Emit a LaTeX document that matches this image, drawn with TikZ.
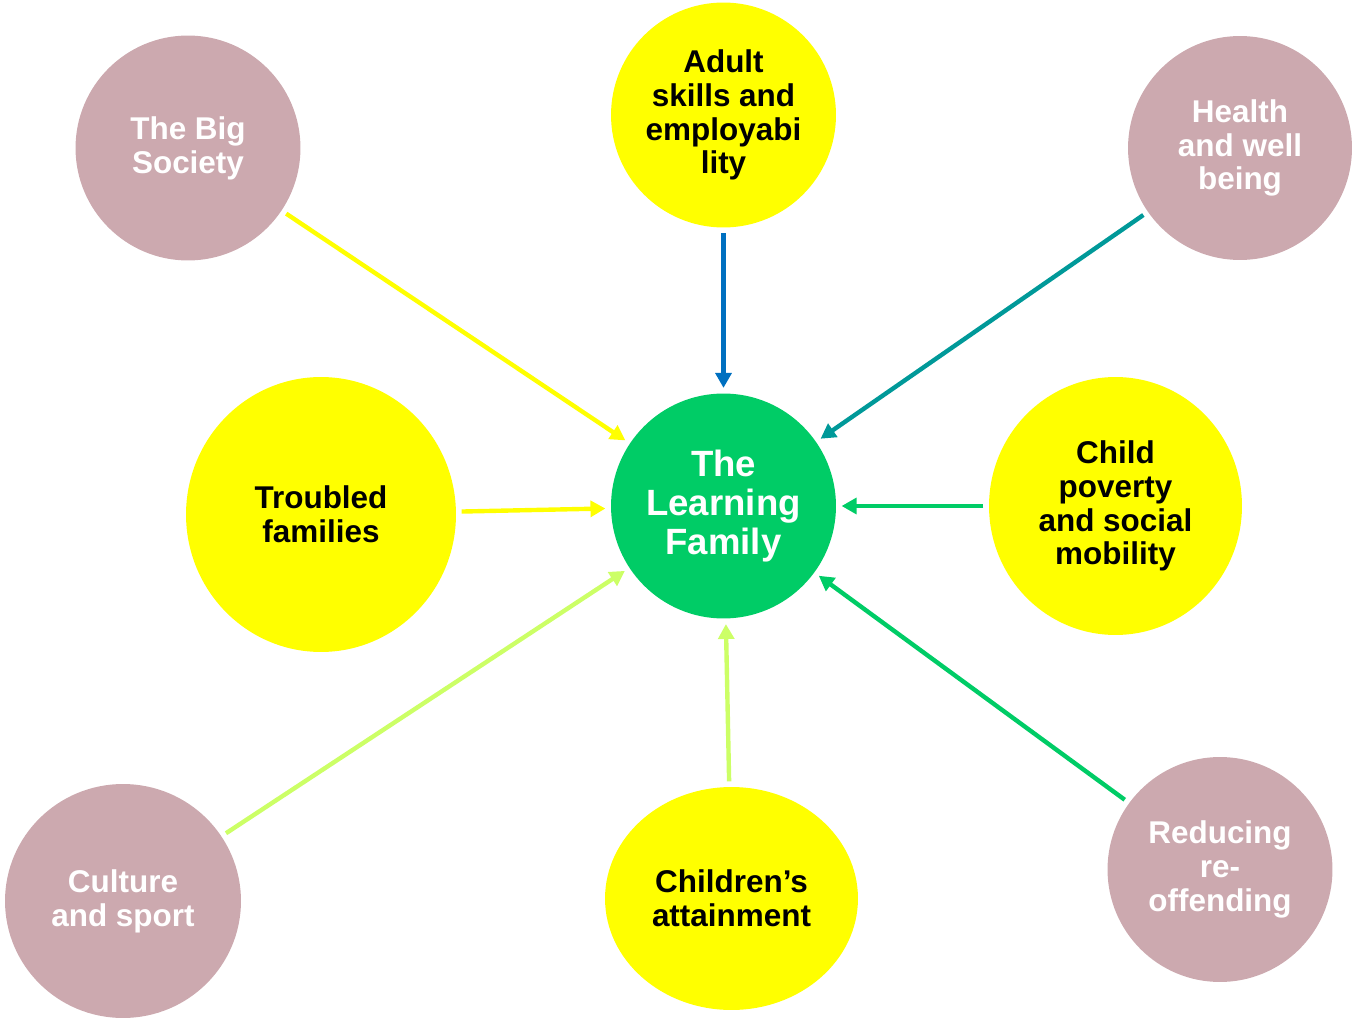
\documentclass[tikz,border=0pt]{standalone}
\usepackage{fontspec}
\setmainfont{Liberation Sans}
\usetikzlibrary{arrows.meta,shapes.geometric}

\definecolor{mauve}{HTML}{CCA9AF}
\definecolor{sun}{HTML}{FFFF00}
\definecolor{hubgreen}{HTML}{00CC66}
\definecolor{lime}{HTML}{CCFF66}
\definecolor{skillblue}{HTML}{0070C0}
\definecolor{teal}{HTML}{009999}

\tikzset{
  issue/.style={ellipse, inner sep=0pt, align=center,
    font=\bfseries\fontsize{17.9}{19.3}\selectfont},
  outer/.style={issue, fill=mauve, text=white},
  inner/.style={issue, fill=sun, text=black},
  feed/.style={draw=#1, line width=2.5pt,
    -{Triangle[length=8.5pt,width=9pt]}, shorten <=3pt, shorten >=3pt},
}

\begin{document}
\begin{tikzpicture}[x=0.02cm, y=-0.02cm]
  \useasboundingbox (0,0) rectangle (1355,1020);

  % the hub
  \node[issue, fill=hubgreen, text=white, minimum size=4.5cm,
    font=\bfseries\fontsize{20.8}{22}\selectfont] (family) at (723.5,506)
    {The\\Learning\\Family};

  % policy areas round it
  \node[outer, minimum size=4.5cm] (bigsoc) at (188,148) {The Big\\Society};
  \node[inner, minimum size=4.5cm] (adult) at (723.5,115) {Adult\\skills and\\employabi\\lity};
  \node[outer, minimum size=4.48cm] (health) at (1240,148) {Health\\and well\\being};
  \node[inner, minimum width=5.4cm, minimum height=5.5cm] (troubled) at (321,514.5) {Troubled\\families};
  \node[inner, minimum width=5.06cm, minimum height=5.16cm] (poverty) at (1115.5,506) {Child\\poverty\\and social\\mobility};
  \node[outer, minimum width=4.72cm, minimum height=4.68cm] (culture) at (123,901) {Culture\\and sport};
  \node[inner, minimum width=5.06cm, minimum height=4.46cm] (attain) at (731.5,898.5) {Children’s\\attainment};
  \node[outer, minimum size=4.5cm] (reduce) at (1220,869.5) {Reducing\\re-\\offending};

  % arrows into the hub
  \draw[feed=sun] (bigsoc) -- (family);
  \draw[feed=skillblue] (adult) -- (family);
  \draw[feed=teal] (health) -- (family);
  \draw[feed=sun] (troubled) -- (family);
  \draw[feed=hubgreen] (poverty) -- (family);
  \draw[feed=lime] (culture) -- (family);
  \draw[feed=lime] (attain) -- (family);
  \draw[feed=hubgreen] (reduce) -- (family);
\end{tikzpicture}
\end{document}
